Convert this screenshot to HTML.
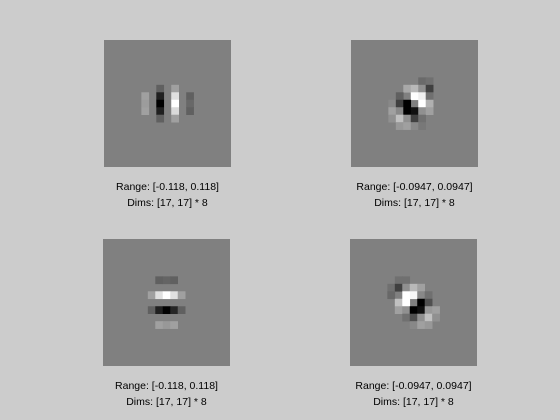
<!DOCTYPE html>
<html><head><meta charset="utf-8"><style>
html,body{margin:0;padding:0;background:#cccccc;width:560px;height:420px;overflow:hidden}
svg{display:block}
text{font-family:"Liberation Sans",sans-serif;font-size:10.5px;fill:#000}
</style></head><body>
<svg id="fig" width="560" height="420" xmlns="http://www.w3.org/2000/svg"></svg>
<script>
// Filter data: sparse cells [row, col, gray 0-255]; background 128
const filter1 = [[6,7,96],[7,7,32],[8,7,0],[9,7,32],[10,7,96],
 [6,9,160],[7,9,224],[8,9,255],[9,9,218],[10,9,160],
 [7,5,160],[8,5,156],[9,5,160],[7,11,96],[8,11,104],[9,11,96]];
const filter2 = [[5,9,106],[5,10,112],[6,7,168],[6,8,184],[6,9,144],[6,10,64],
 [7,6,96],[7,8,255],[7,9,240],[7,10,112],
 [8,5,136],[8,6,64],[8,7,0],[8,9,255],[8,10,176],
 [9,5,160],[9,6,136],[9,7,0],[9,8,16],[9,9,144],[9,10,160],
 [10,5,144],[10,6,192],[10,7,144],[10,8,64],[10,9,112],
 [11,6,152],[11,7,160],[11,8,136],[11,9,120]];
const filter3 = filter1.map(function(d){return [d[1], d[0], 256 - d[2] > 255 ? 255 : 256 - d[2]];});
const filter4 = [[5,6,112],[5,7,112],[6,5,112],[6,6,64],[6,7,144],[6,8,184],[6,9,160],
 [7,5,104],[7,7,255],[7,8,248],[7,9,136],[7,10,112],
 [8,6,192],[8,7,255],[8,9,0],[8,10,80],
 [9,6,160],[9,7,144],[9,8,0],[9,9,16],[9,10,152],[9,11,160],
 [10,7,112],[10,8,80],[10,9,144],[10,10,192],[10,11,144],
 [11,8,136],[11,9,160],[11,10,152]];
const ranges = ["Range: [-0.118, 0.118]","Range: [-0.0947, 0.0947]","Range: [-0.118, 0.118]","Range: [-0.0947, 0.0947]"];
const dims = ["Dims: [17, 17] * 8","Dims: [17, 17] * 8","Dims: [17, 17] * 8","Dims: [17, 17] * 8"];
const filters = [filter1, filter2, filter3, filter4];

const NS = "http://www.w3.org/2000/svg";
const svg = document.getElementById('fig');
const panels = [[104,40],[351,40],[103,239],[350,239]];
const N = 17, S = 127, cs = S / N;
filters.forEach(function(f, i){
  const g = document.createElementNS(NS, 'g');
  
  
  const x0 = panels[i][0], y0 = panels[i][1];
  const bg = document.createElementNS(NS, 'rect');
  bg.setAttribute('x', x0); bg.setAttribute('y', y0);
  bg.setAttribute('width', S); bg.setAttribute('height', S);
  bg.setAttribute('fill', 'rgb(128,128,128)');
  
  
  g.appendChild(bg);
  f.forEach(function(d){
    const r = document.createElementNS(NS, 'rect');
    r.setAttribute('x', (x0 + d[1]*cs).toFixed(2));
    r.setAttribute('y', (y0 + d[0]*cs).toFixed(2));
    r.setAttribute('width', (cs+0.3).toFixed(2));
    r.setAttribute('height', (cs+0.3).toFixed(2));
    r.setAttribute('fill', 'rgb(' + d[2] + ',' + d[2] + ',' + d[2] + ')');
    
    
    g.appendChild(r);
  });
  const cx = x0 + S/2;
  const t1 = document.createElementNS(NS, 'text');
  t1.setAttribute('x', cx); t1.setAttribute('y', y0 + S + 23);
  t1.setAttribute('text-anchor', 'middle');
  t1.textContent = ranges[i];
  
  
  g.appendChild(t1);
  const t2 = document.createElementNS(NS, 'text');
  t2.setAttribute('x', cx); t2.setAttribute('y', y0 + S + 39);
  t2.setAttribute('text-anchor', 'middle');
  t2.textContent = dims[i];
  
  
  g.appendChild(t2);
  svg.appendChild(g);
});
</script>
</body></html>
